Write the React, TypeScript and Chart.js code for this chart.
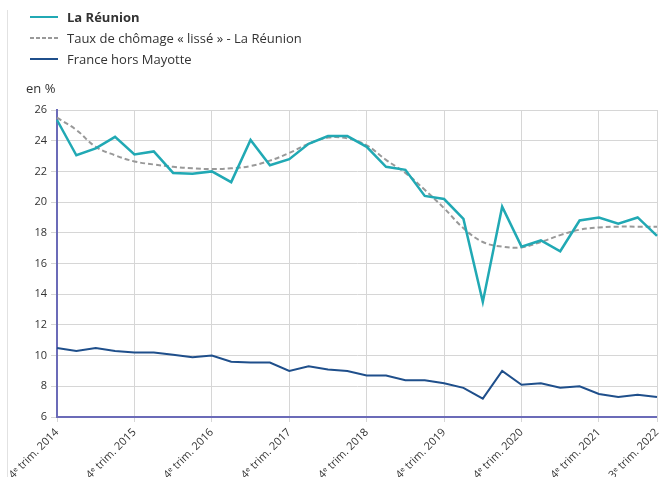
import React, { useEffect, useRef } from "react";
import { Chart, registerables } from "chart.js";

Chart.register(...registerables);

const categories = [
  "4ᵉ trim. 2014",
  "1ᵉʳ trim. 2015", "2ᵉ trim. 2015", "3ᵉ trim. 2015", "4ᵉ trim. 2015",
  "1ᵉʳ trim. 2016", "2ᵉ trim. 2016", "3ᵉ trim. 2016", "4ᵉ trim. 2016",
  "1ᵉʳ trim. 2017", "2ᵉ trim. 2017", "3ᵉ trim. 2017", "4ᵉ trim. 2017",
  "1ᵉʳ trim. 2018", "2ᵉ trim. 2018", "3ᵉ trim. 2018", "4ᵉ trim. 2018",
  "1ᵉʳ trim. 2019", "2ᵉ trim. 2019", "3ᵉ trim. 2019", "4ᵉ trim. 2019",
  "1ᵉʳ trim. 2020", "2ᵉ trim. 2020", "3ᵉ trim. 2020", "4ᵉ trim. 2020",
  "1ᵉʳ trim. 2021", "2ᵉ trim. 2021", "3ᵉ trim. 2021", "4ᵉ trim. 2021",
  "1ᵉʳ trim. 2022", "2ᵉ trim. 2022", "3ᵉ trim. 2022",
];

const shownTickLabels = [
  "4ᵉ trim. 2014", "4ᵉ trim. 2015", "4ᵉ trim. 2016", "4ᵉ trim. 2017",
  "4ᵉ trim. 2018", "4ᵉ trim. 2019", "4ᵉ trim. 2020", "4ᵉ trim. 2021",
  "3ᵉ trim. 2022",
];

const reunion = [
  25.35, 23.05, 23.5, 24.25, 23.1, 23.3, 21.9, 21.85, 22.0, 21.3,
  24.05, 22.4, 22.8, 23.8, 24.3, 24.3, 23.6, 22.3, 22.1, 20.4,
  20.2, 18.9, 13.5, 19.7, 17.1, 17.5, 16.8, 18.8, 19.0, 18.6,
  19.0, 17.8,
];

const reunionLisse = [
  25.5, 24.7, 23.6, 23.05, 22.65, 22.45, 22.3, 22.2, 22.15, 22.2,
  22.35, 22.7, 23.2, 23.8, 24.2, 24.15, 23.7, 22.75, 21.9, 20.8,
  19.6, 18.3, 17.4, 17.1, 17.05, 17.4, 17.85, 18.2, 18.35, 18.4,
  18.4, 18.4,
];

const franceHorsMayotte = [
  10.5, 10.3, 10.5, 10.3, 10.2, 10.2, 10.05, 9.9, 10.0, 9.6,
  9.55, 9.55, 9.0, 9.3, 9.1, 9.0, 8.7, 8.7, 8.4, 8.4,
  8.2, 7.9, 7.2, 9.0, 8.1, 8.2, 7.9, 8.0, 7.5, 7.3,
  7.45, 7.3,
];

const yTicks = [6, 8, 10, 12, 14, 16, 18, 20, 22, 24, 26];

const TEAL = "#21a9b4";
const GREY = "#999999";
const BLUE = "#1f4f8b";
const AXIS = "#6b6bb8";
const GRID = "#d6d6d6";
const FONT = "'Open Sans', 'Noto Sans', sans-serif";

export default function App() {
  const canvasRef = useRef<HTMLCanvasElement | null>(null);

  useEffect(() => {
    const canvas = canvasRef.current;
    if (!canvas) return;
    const chart = new Chart(canvas, {
      type: "line",
      data: {
        labels: categories,
        datasets: [
          {
            label: "La Réunion",
            data: reunion,
            borderColor: TEAL,
            borderWidth: 2.5,
            pointRadius: 0,
            tension: 0,
            order: 1,
          },
          {
            label: "Taux de chômage « lissé » - La Réunion",
            data: reunionLisse,
            borderColor: GREY,
            borderWidth: 2,
            borderDash: [5, 3],
            pointRadius: 0,
            tension: 0.4,
            order: 2,
          },
          {
            label: "France hors Mayotte",
            data: franceHorsMayotte,
            borderColor: BLUE,
            borderWidth: 2,
            pointRadius: 0,
            tension: 0,
            order: 3,
          },
        ],
      },
      options: {
        animation: false,
        responsive: true,
        maintainAspectRatio: false,
        layout: { padding: { left: 0, right: 3, top: 110, bottom: 0 } },
        plugins: {
          legend: { display: false },
          tooltip: { enabled: false },
        },
        scales: {
          x: {
            offset: false,
            grid: {
              color: GRID,
              lineWidth: 1,
              drawTicks: true,
              tickLength: 5,
            },
            border: { display: false },
            ticks: {
              autoSkip: false,
              maxRotation: 45,
              minRotation: 45,
              padding: 4,
              color: "#333333",
              font: { family: FONT, size: 11 },
              callback: (_v: any, i: number) => {
                const lab = categories[i];
                return shownTickLabels.includes(lab) ? lab : null;
              },
            },
            afterFit: (scale: any) => {
              scale.height = 60;
              scale.paddingLeft = 0;
              scale.paddingRight = 0;
            },
          },
          y: {
            min: 6,
            max: 26,
            afterBuildTicks: (scale: any) => {
              scale.ticks = yTicks.map((v) => ({ value: v }));
            },
            grid: {
              color: GRID,
              lineWidth: 1,
              drawTicks: true,
              tickLength: 6,
            },
            border: { display: true, color: AXIS, width: 2 },
            ticks: {
              padding: 4,
              color: "#333333",
              font: { family: FONT, size: 11 },
            },
            afterFit: (scale: any) => {
              scale.width = 57;
            },
          },
        },
      },
      plugins: [
        {
          id: "bottomAxisLine",
          afterDatasetsDraw(c: any) {
            const { ctx, chartArea } = c;
            ctx.save();
            ctx.strokeStyle = AXIS;
            ctx.lineWidth = 2;
            ctx.beginPath();
            ctx.moveTo(chartArea.left, chartArea.bottom);
            ctx.lineTo(chartArea.right, chartArea.bottom);
            ctx.stroke();
            ctx.restore();
          },
        },
      ],
    } as any);
    return () => chart.destroy();
  }, []);

  const legendItems = [
    { label: "La Réunion", color: TEAL, dashed: false, bold: true },
    { label: "Taux de chômage « lissé » - La Réunion", color: GREY, dashed: true, bold: false },
    { label: "France hors Mayotte", color: BLUE, dashed: false, bold: false },
  ];

  return (
    <div
      style={{
        position: "absolute",
        left: 0,
        top: 0,
        width: 660,
        height: 477,
        background: "#ffffff",
        fontFamily: FONT,
        color: "#333333",
      }}
    >
      <canvas ref={canvasRef} />
      <div
        style={{
          position: "absolute",
          left: 7,
          top: 10,
          width: 1,
          height: 467,
          background: "#e2e2e2",
        }}
      />
      {legendItems.map((it, i) => (
        <div
          key={it.label}
          style={{
            position: "absolute",
            left: 30,
            top: 17 + i * 21 - 9,
            height: 18,
            display: "flex",
            alignItems: "center",
            fontSize: 13,
            fontWeight: it.bold ? 700 : 400,
            whiteSpace: "nowrap",
          }}
        >
          <span
            style={{
              display: "inline-block",
              width: 28,
              height: 2,
              background: it.dashed
                ? `repeating-linear-gradient(to right, ${it.color} 0px, ${it.color} 4px, transparent 4px, transparent 6px)`
                : it.color,
              marginRight: 9,
            }}
          />
          {it.label}
        </div>
      ))}
      <div
        style={{
          position: "absolute",
          left: 26,
          top: 79,
          fontSize: 13,
          whiteSpace: "nowrap",
        }}
      >
        en %
      </div>
    </div>
  );
}
